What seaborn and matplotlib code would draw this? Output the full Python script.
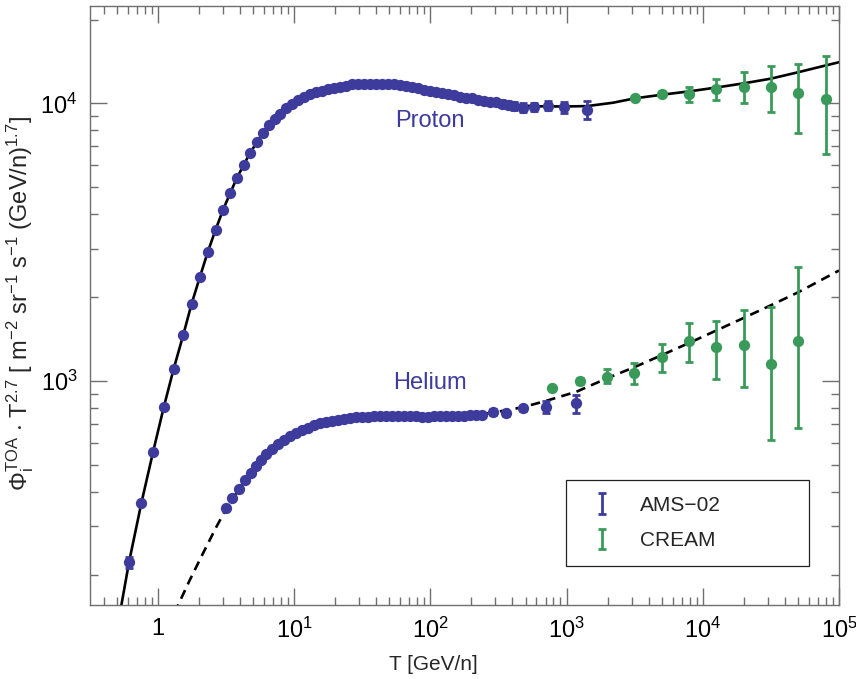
import numpy as np
import pandas as pd
import matplotlib
matplotlib.use("Agg")
import matplotlib.pyplot as plt
import seaborn as sns
from matplotlib.ticker import FixedLocator, FixedFormatter, LogLocator, NullFormatter
from matplotlib.container import ErrorbarContainer
from matplotlib.legend_handler import HandlerErrorbar

# ---------------- data: kinetic energy per nucleon [GeV/n] and flux * T^2.7 ----------------
# AMS-02 protons
proton_ams_E = [0.612, 0.755, 0.919, 1.10, 1.30, 1.53, 1.76, 2.03, 2.32, 2.64, 2.99, 3.38,
                3.78, 4.24, 4.74, 5.30, 5.87, 6.50, 7.19, 7.83, 8.66, 9.59, 10.61, 11.74,
                12.99, 14.38, 15.92, 17.62, 19.50, 21.58, 23.89, 26.44, 29.26, 32.38, 35.84,
                39.66, 43.89, 48.58, 53.77, 59.50, 65.86, 72.89, 80.68, 89.29, 98.83, 109.4,
                121.1, 134.0, 148.3, 164.1, 181.6, 201.0, 222.5, 246.2, 272.5, 301.6, 333.8,
                369.4, 408.9, 476.1, 573.4, 726.4, 952.1, 1405]
proton_ams_F = [223, 365, 556, 804, 1104, 1465, 1893, 2374, 2923, 3498, 4120, 4742,
                5370, 6012, 6637, 7238, 7799, 8331, 8801, 9153, 9618, 9942, 10270, 10540,
                10760, 10940, 11120, 11260, 11400, 11490, 11590, 11690, 11730, 11770, 11780,
                11780, 11770, 11730, 11690, 11640, 11540, 11450, 11330, 11210, 11100, 11000,
                10890, 10800, 10710, 10580, 10490, 10410, 10320, 10230, 10150, 10070, 9984,
                9901, 9820, 9658, 9723, 9804, 9674, 9461]
proton_ams_err = [10, 0, 0, 0, 0, 0, 0, 0, 0, 0, 0, 0,
                  0, 0, 0, 0, 0, 0, 0, 0, 0, 0, 0, 0,
                  0, 0, 0, 0, 0, 0, 0, 0, 0, 0, 0,
                  0, 0, 0, 0, 0, 0, 0, 0, 0, 0, 0,
                  0, 0, 0, 0, 0, 0, 0, 0, 0, 0, 300,
                  300, 320, 330, 330, 350, 460, 700]

# AMS-02 helium
helium_ams_E = [3.178, 3.518, 3.933, 4.331, 4.793, 5.216, 5.744, 6.251, 6.917, 7.603, 8.375,
                9.268, 10.26, 11.35, 12.57, 13.91, 15.39, 17.03, 18.85, 20.86, 23.09, 25.55,
                28.28, 31.30, 34.64, 38.34, 42.44, 46.97, 51.99, 57.54, 63.68, 70.47, 78.00,
                86.32, 95.54, 105.7, 117.0, 129.5, 143.3, 158.6, 175.6, 194.3, 215.1, 240.9,
                288.2, 361.4, 478.6, 710.9, 1166]
helium_ams_F = [348.0, 378.1, 408.4, 440.1, 467.5, 494.2, 519.4, 544.5, 569.0, 593.1, 613.1,
                632.3, 649.6, 666.0, 680.0, 692.6, 703.1, 711.9, 719.6, 726.1, 731.7, 735.9,
                739.5, 742.0, 744.4, 745.6, 747.0, 748.2, 748.2, 747.6, 747.0, 746.3, 745.6,
                745.0, 745.0, 745.6, 746.3, 747.6, 748.2, 749.4, 750.6, 751.8, 753.2, 754.4,
                775.3, 765.0, 797.4, 808.1, 831.2]
helium_ams_err = [0, 0, 0, 0, 0, 0, 0, 0, 0, 0, 0,
                  0, 0, 0, 0, 0, 0, 0, 0, 0, 0, 0,
                  0, 0, 0, 0, 0, 0, 0, 0, 0, 0, 0,
                  0, 0, 0, 0, 0, 0, 0, 0, 0, 0, 0,
                  18, 15, 15, 38, 63]

# CREAM protons
proton_cream_E = [3162, 5012, 7925, 12590, 19950, 31550, 50350, 79800]
proton_cream_F = [10480, 10800, 10770, 11260, 11480, 11420, 10860, 10340]
proton_cream_lo = [0, 0, 690, 980, 1480, 2140, 3030, 3780]
proton_cream_hi = [0, 0, 710, 970, 1450, 2240, 3000, 4490]

# CREAM helium
helium_cream_E = [787, 1247, 1982, 3147, 4990, 7925, 12590, 19950, 31700, 50350]
helium_cream_F = [942, 1003, 1036, 1071, 1223, 1396, 1329, 1352, 1148, 1396]
helium_cream_lo = [0, 25, 54, 96, 143, 222, 315, 398, 535, 720]
helium_cream_hi = [0, 25, 66, 88, 136, 218, 319, 450, 703, 1184]

# model curves
proton_model_E = [0.53, 0.612, 0.755, 0.919, 1.10, 1.30, 1.53, 1.76, 2.03, 2.32, 2.64, 2.99,
                  3.38, 3.78, 4.74, 5.87, 7.19, 9.59, 12.99, 17.62, 23.89, 32.38, 43.89, 59.5,
                  80.68, 109.4, 148.3, 201, 272.5, 369.4, 573, 952, 1413, 2190, 3162, 5012,
                  7943, 12590, 19950, 31620, 50120, 79430, 100000]
proton_model_F = [150, 223, 365, 556, 804, 1104, 1465, 1893, 2374, 2923, 3498, 4120,
                  4742, 5370, 6637, 7799, 8801, 9942, 10760, 11260, 11590, 11770, 11770, 11640,
                  11330, 11000, 10710, 10410, 10150, 9901, 9760, 9740, 9772, 10050, 10420, 10740,
                  11040, 11400, 11800, 12270, 12940, 13680, 14060]
helium_model_E = [1.318, 1.402, 1.709, 2.140, 2.685, 3.178, 3.933, 4.793, 5.744, 6.917, 8.375,
                  10.26, 12.57, 15.39, 20.86, 28.28, 42.44, 63.68, 95.54, 143.3, 215.1, 288,
                  361, 478.6, 711, 1180, 1982, 3147, 4990, 7925, 12590, 19950, 31700, 50350,
                  100000]
helium_model_F = [146, 156, 192, 240, 299, 348, 408, 468, 519, 569, 613,
                  650, 680, 703, 726, 740, 747, 747, 745, 748, 753, 770,
                  785, 805, 849, 915, 1023, 1122, 1239, 1371, 1521, 1687, 1875, 2089,
                  2500]

x_major = [1, 10, 100, 1000, 10000, 100000]
x_major_labels = ["1", "$10^1$", "$10^2$", "$10^3$", "$10^4$", "$10^5$"]
y_major = [1000, 10000]
y_major_labels = ["$10^3$", "$10^4$"]

BLUE = "#3d3b9c"
GREEN = "#3a9a5a"
AXIS_GREY = "#6f6f6f"

# ---------------- style ----------------
sns.set_style("ticks")
plt.rcParams["font.family"] = ["Liberation Sans", "DejaVu Sans"]
plt.rcParams["mathtext.fontset"] = "custom"
plt.rcParams["mathtext.rm"] = "Liberation Sans"
plt.rcParams["mathtext.it"] = "Liberation Sans:italic"
plt.rcParams["mathtext.bf"] = "Liberation Sans:bold"
plt.rcParams["mathtext.sf"] = "Liberation Sans"
plt.rcParams["mathtext.default"] = "regular"

fig = plt.figure(figsize=(8.56, 6.79), dpi=100)
ax = fig.add_axes([0.10514, 0.10898, 0.87500, 0.88218])
ax.set_xscale("log")
ax.set_yscale("log")

# model curves
sns.lineplot(x=proton_model_E, y=proton_model_F, ax=ax, color="black", lw=1.9,
             sort=False, estimator=None, zorder=2)
sns.lineplot(x=helium_model_E, y=helium_model_F, ax=ax, color="black", lw=1.9,
             sort=False, estimator=None, zorder=2, linestyle=(0, (3.6, 2.4)))


def draw_errors(E, F, lo, hi, color):
    E = np.asarray(E, float)
    F = np.asarray(F, float)
    lo = np.asarray(lo, float)
    hi = np.asarray(hi, float)
    keep = (lo > 0) | (hi > 0)
    return ax.errorbar(E[keep], F[keep], yerr=[lo[keep], hi[keep]], fmt="none",
                       ecolor=color, elinewidth=2.0, capsize=3.2, capthick=2.0, zorder=3)


eb_ams = draw_errors(proton_ams_E, proton_ams_F, proton_ams_err, proton_ams_err, BLUE)
draw_errors(helium_ams_E, helium_ams_F, helium_ams_err, helium_ams_err, BLUE)
eb_cream = draw_errors(proton_cream_E, proton_cream_F, proton_cream_lo, proton_cream_hi, GREEN)
draw_errors(helium_cream_E, helium_cream_F, helium_cream_lo, helium_cream_hi, GREEN)

# data points
for E, F, c in [(proton_ams_E, proton_ams_F, BLUE), (helium_ams_E, helium_ams_F, BLUE),
                (proton_cream_E, proton_cream_F, GREEN), (helium_cream_E, helium_cream_F, GREEN)]:
    sns.scatterplot(x=E, y=F, ax=ax, color=c, s=66, linewidth=0, marker="o",
                    zorder=4, legend=False)

# species labels
ax.text(98.8, 8630, "Proton", color=BLUE, fontsize=17, ha="center", va="center")
ax.text(98.8, 985, "Helium", color=BLUE, fontsize=17, ha="center", va="center")

# axes
ax.set_xlim(0.3162, 1.0e5)
ax.set_ylim(156.1, 22410)
ax.xaxis.set_major_locator(FixedLocator(x_major))
ax.xaxis.set_major_formatter(FixedFormatter(x_major_labels))
ax.xaxis.set_minor_locator(LogLocator(base=10, subs=np.arange(2, 10), numticks=20))
ax.xaxis.set_minor_formatter(NullFormatter())
ax.yaxis.set_major_locator(FixedLocator(y_major))
ax.yaxis.set_major_formatter(FixedFormatter(y_major_labels))
ax.yaxis.set_minor_locator(LogLocator(base=10, subs=np.arange(2, 10), numticks=20))
ax.yaxis.set_minor_formatter(NullFormatter())

ax.tick_params(which="both", direction="in", top=True, right=True, colors=AXIS_GREY,
               labelcolor="black", labelsize=17, width=1.0)
ax.tick_params(which="major", length=12, pad=9)
ax.tick_params(which="minor", length=5.5)
for s in ax.spines.values():
    s.set_color(AXIS_GREY)
    s.set_linewidth(1.0)

ax.set_xlabel("T [GeV/n]", fontsize=15, labelpad=8)
ax.xaxis.set_label_coords(0.458, -0.083)
ax.set_ylabel(r"$\Phi_\mathrm{i}^\mathrm{TOA}$ $\cdot$ T$^{2.7}$ [ m$^{-2}$ sr$^{-1}$ s$^{-1}$ (GeV/n)$^{1.7}$]",
              fontsize=17)
ax.yaxis.set_label_coords(-0.0725, 0.503)

leg = ax.legend(handles=[eb_ams, eb_cream], labels=["AMS\u221202", "CREAM"],
                loc="upper left", bbox_to_anchor=(0.6355, 0.0618, 0.3245, 0.1469),
                mode="expand", borderaxespad=0.0, fontsize=15, frameon=True, fancybox=False,
                edgecolor="#222222", framealpha=1, borderpad=0.75, labelspacing=0.8,
                handlelength=2.0, handletextpad=0.8,
                handler_map={ErrorbarContainer: HandlerErrorbar(xerr_size=0.5)})
leg.get_frame().set_linewidth(0.9)

fig.savefig("out.png", dpi=100)
